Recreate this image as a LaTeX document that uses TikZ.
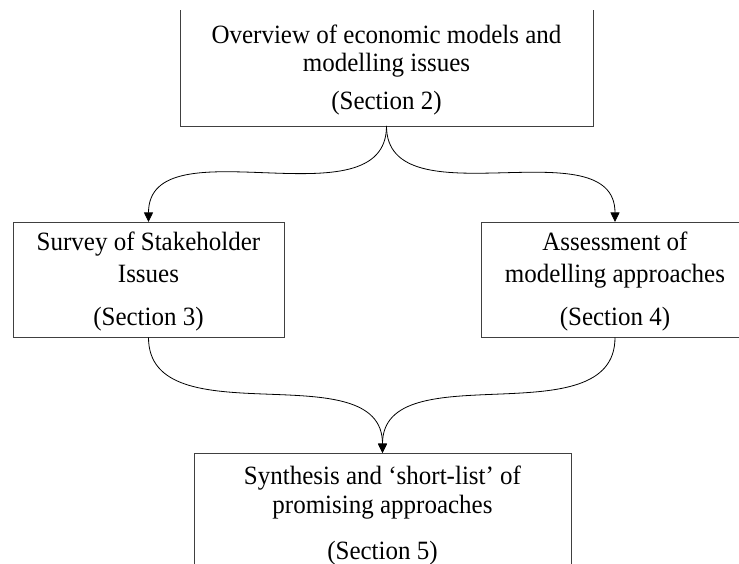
\documentclass[tikz,border=0pt]{standalone}
\usepackage{fontspec}
\setmainfont{Liberation Serif}
\usetikzlibrary{arrows.meta}

% narrow, tall serif lettering
\newcommand{\narrowtext}[1]{\scalebox{0.947}[1]{#1}}

\tikzset{
  box/.style={draw=black!75, line width=0.9pt, inner sep=0pt, outer sep=0pt, rectangle},
  label/.style={anchor=base, inner sep=0pt, font=\fontsize{26.4}{30}\selectfont},
  conn/.style={draw=black, line width=0.8pt,
    -{Triangle[length=9.5pt,width=9pt]}, out=-90, in=90, looseness=1}
}

\begin{document}
\begin{tikzpicture}[x=1pt, y=-1pt]
  \useasboundingbox (0,0) rectangle (739,564);
  \clip (0,0) rectangle (739,564);

  % top box: its upper edge lies outside the page
  \begin{scope}
    \clip (0,11) rectangle (739,564);
    \node[box, minimum width=413pt, minimum height=121pt] (overview) at (386.5,65.5) {};
  \end{scope}
  \node[label] (overviewA) at (386.5,44) {\narrowtext{Overview of economic models and}};
  \node[label] (overviewB) at (386.5,72) {\narrowtext{modelling issues}};
  \node[label] (overviewC) at (386.5,110) {\narrowtext{(Section 2)}};

  % middle row
  \node[box, minimum width=271pt, minimum height=115.5pt] (survey) at (148.5,279.75) {};
  \node[label] (surveyA) at (148.5,251) {\narrowtext{Survey of Stakeholder}};
  \node[label] (surveyB) at (148.5,282) {\narrowtext{Issues}};
  \node[label] (surveyC) at (148.5,325) {\narrowtext{(Section 3)}};

  \node[box, minimum width=268pt, minimum height=115.5pt] (assess) at (615,279.75) {};
  \node[label] (assessA) at (615,251) {\narrowtext{Assessment of}};
  \node[label] (assessB) at (615,282) {\narrowtext{modelling approaches}};
  \node[label] (assessC) at (615,325) {\narrowtext{(Section 4)}};

  % bottom box: its lower edge lies outside the page
  \node[box, minimum width=377pt, minimum height=122pt] (synth) at (382.5,514) {};
  \node[label] (synthA) at (382.5,484) {\narrowtext{Synthesis and ‘short-list’ of}};
  \node[label] (synthB) at (382.5,513) {\narrowtext{promising approaches}};
  \node[label] (synthC) at (382.5,559) {\narrowtext{(Section 5)}};

  % connectors
  \draw[conn] (overview.south) to (survey.north);
  \draw[conn] (overview.south) to (assess.north);
  \draw[conn] (survey.south) to (synth.north);
  \draw[conn] (assess.south) to (synth.north);
\end{tikzpicture}
\end{document}
